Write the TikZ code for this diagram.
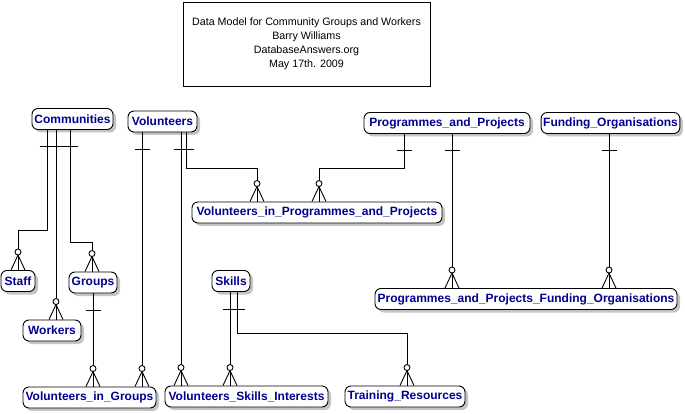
\documentclass[tikz,border=0pt]{standalone}
\usepackage{fontspec}
\setmainfont{Liberation Sans}
\usepackage{xcolor}
\definecolor{entityblue}{HTML}{000090}
\definecolor{shadowgray}{HTML}{C4C4C4}
\usetikzlibrary{shadows, decorations.markings, calc}

\begin{document}
\begin{tikzpicture}[
  x=1pt, y=-1pt,
  entity/.style={draw, rounded corners=6pt, fill=white, line width=0.9pt, minimum height=21pt, inner xsep=2pt, inner ysep=0pt, font=\fontsize{12}{14}\selectfont\bfseries, text=entityblue, drop shadow={shadow xshift=3pt, shadow yshift=-3pt, fill=shadowgray, opacity=1}},
  titlebox/.style={draw, line width=0.9pt, minimum width=247pt, minimum height=84pt, align=center, font=\fontsize{10.7}{14}\selectfont},
  rel/.style={line width=0.9pt},
  one/.style={postaction={decorate, decoration={markings, mark=at position 17pt with {\draw[line width=0.9pt] (0,-7.5pt) -- (0,7.5pt);}}}},
  many/.style={postaction={decorate, decoration={markings, mark=at position 1 with {\draw[line width=0.9pt] (-15pt,0) -- (0,-7pt) (-15pt,0) -- (0,7pt); \draw[line width=0.9pt, fill=white] (-18pt,0) circle (3pt);}}}},
]
\useasboundingbox (0,0) rectangle (685,414);

% Title
\node[titlebox] (title) at (306.5,44) {Data Model for Community Groups and Workers\\Barry Williams\\DatabaseAnswers.org\\May 17th. 2009};

% Top row
\node[entity, minimum width=81pt] (communities) at (72.5,119) {Communities};
\node[entity, minimum width=69pt] (volunteers) at (162.5,121.5) {Volunteers};
\node[entity, minimum width=166pt] (progproj) at (447,123) {Programmes\_and\_Projects};
\node[entity, minimum width=137pt] (funding) at (610.5,123) {Funding\_Organisations};

% Middle
\node[entity, minimum width=250pt] (volprog) at (317,212.5) {Volunteers\_in\_Programmes\_and\_Projects};
\node[entity, minimum width=302pt] (progfund) at (526,299) {Programmes\_and\_Projects\_Funding\_Organisations};
\node[entity, minimum width=34pt] (staff) at (18,281) {Staff};
\node[entity, minimum width=48pt] (groups) at (93,282.5) {Groups};
\node[entity, minimum width=58pt] (workers) at (52,330.5) {Workers};
\node[entity, minimum width=38pt] (skills) at (231,281) {Skills};

% Bottom row
\node[entity, minimum width=133pt] (volgroups) at (89.5,397.5) {Volunteers\_in\_Groups};
\node[entity, minimum width=163pt] (volskills) at (246.5,396.5) {Volunteers\_Skills\_Interests};
\node[entity, minimum width=120pt] (training) at (405,396.5) {Training\_Resources};

% Relationships
\draw[rel, one, many] (communities.south -| 47,0) -- (47,230) -| (staff.north);
\draw[rel, one, many] (communities.south -| 56,0) -- (workers.north -| 56,0);
\draw[rel, one, many] (communities.south -| 70,0) -- (70,242) -| (groups.north -| 92,0);
\draw[rel, one, many] (volunteers.south -| 142,0) -- (volgroups.north -| 142,0);
\draw[rel, one, many] (volunteers.south -| 181,0) -- (volskills.north -| 181,0);
\draw[rel, one, many] (volunteers.south -| 186,0) -- (186,168) -| (volprog.north -| 257,0);
\draw[rel, one, many] (progproj.south -| 404,0) -- (404,168) -| (volprog.north -| 319,0);
\draw[rel, one, many] (progproj.south -| 452,0) -- (progfund.north -| 452,0);
\draw[rel, one, many] (funding.south -| 609,0) -- (progfund.north -| 609,0);
\draw[rel, one, many] (groups.south) -- (volgroups.north -| 93,0);
\draw[rel, one, many] (skills.south -| 230,0) -- (volskills.north -| 230,0);
\draw[rel, one, many] (skills.south -| 237,0) -- (237,333) -| (training.north -| 407,0);

\end{tikzpicture}
\end{document}
